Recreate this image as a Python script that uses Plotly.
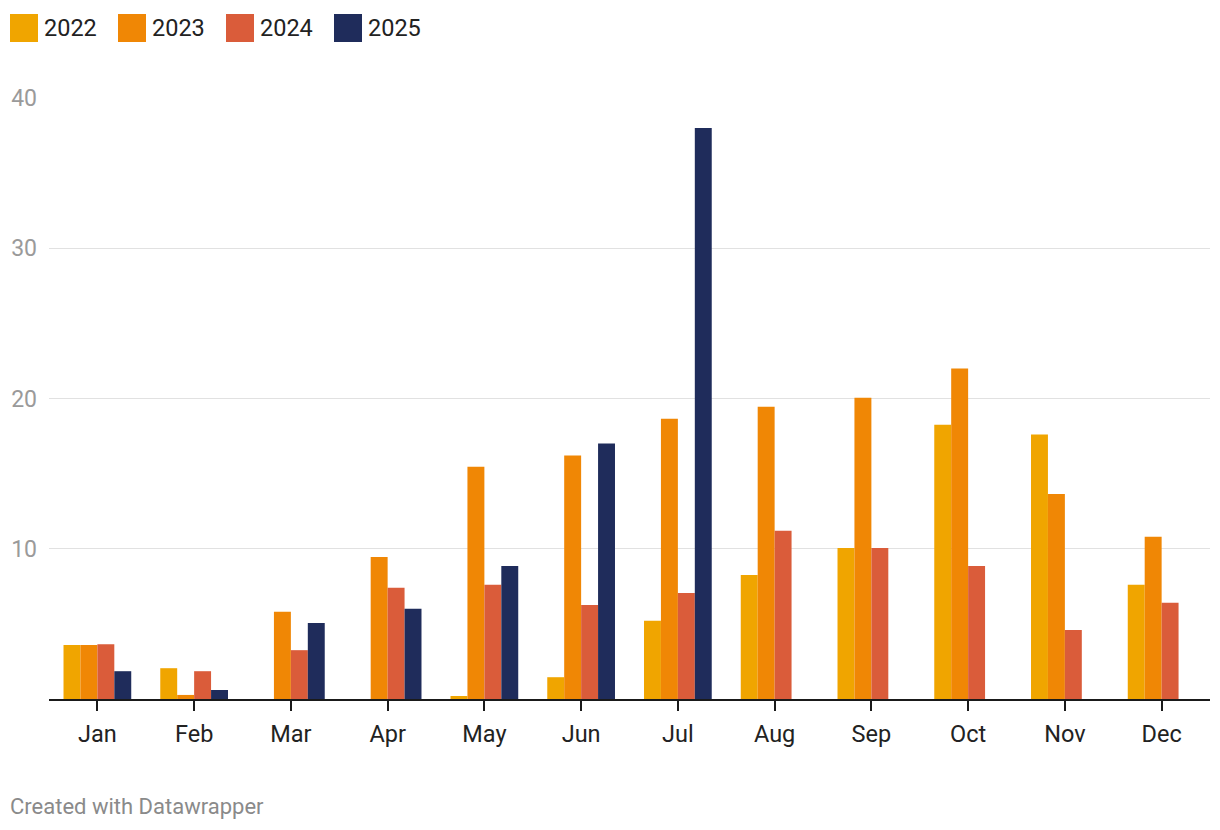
import plotly.graph_objects as go

months = ["Jan", "Feb", "Mar", "Apr", "May", "Jun", "Jul", "Aug", "Sep", "Oct", "Nov", "Dec"]
years = ["2022", "2023", "2024", "2025"]
v2022 = [3.6, 2.05, None, None, 0.2, 1.45, 5.2, 8.25, 10.05, 18.25, 17.6, 7.6]
v2023 = [3.6, 0.27, 5.8, 9.45, 15.45, 16.2, 18.65, 19.45, 20.05, 22.0, 13.65, 10.8]
v2024 = [3.65, 1.85, 3.25, 7.4, 7.6, 6.25, 7.05, 11.2, 10.05, 8.85, 4.6, 6.4]
v2025 = [1.85, 0.6, 5.05, 6.0, 8.85, 17.0, 38.0, None, None, None, None, None]
colors = ["#f0a500", "#f08705", "#da5c3a", "#1f2c5b"]
series = [v2022, v2023, v2024, v2025]
yticks = [10, 20, 30, 40]

# page body has an 8px margin; work in screen pixels and shift
OFF = 8
W, H = 1220 - OFF, 830 - OFF
L, T = 49 - OFF, 98 - OFF
pw, ph = 1161, 601
R, B = W - L - pw, H - T - ph

def px(x):
    return (x - OFF - L) / pw

def py(y):
    return (T + ph - (y - OFF)) / ph

fig = go.Figure()
for name, vals, col in zip(years, series, colors):
    fig.add_trace(go.Bar(x=months, y=vals, name=name, marker_color=col,
                         marker_line_width=0, showlegend=False))

shapes = []
annotations = []
leg_x = [10, 118, 226, 334]
for i, (name, col) in enumerate(zip(years, colors)):
    x0 = leg_x[i]
    shapes.append(dict(type="rect", xref="paper", yref="paper",
                       x0=px(x0), x1=px(x0 + 28), y0=py(42), y1=py(14),
                       fillcolor=col, line_width=0))
    annotations.append(dict(text=name, xref="paper", yref="paper",
                            x=px(x0 + 32), y=py(28), xanchor="left", yanchor="middle",
                            showarrow=False, font=dict(size=23.5, color="#222222")))
annotations.append(dict(text="Created with Datawrapper", xref="paper", yref="paper",
                        x=px(8), y=py(806), xanchor="left", yanchor="middle",
                        showarrow=False, font=dict(size=22, color="#8a8a8a")))

fig.update_layout(
    width=W, height=H,
    margin=dict(l=L, r=R, t=T, b=B),
    paper_bgcolor="white", plot_bgcolor="white",
    font=dict(family="Roboto", color="#222222"),
    barmode="group", bargap=0.3, bargroupgap=0,
    shapes=shapes, annotations=annotations,
    xaxis=dict(showgrid=False, showline=True, linecolor="#1a1a1a", linewidth=2,
               ticks="outside", ticklen=10, tickwidth=2, tickcolor="#1a1a1a",
               ticklabelstandoff=3, automargin=False,
               tickfont=dict(size=23.5, color="#222222"), range=[-0.5, 11.5]),
    yaxis=dict(range=[0, 40], tickvals=yticks, showgrid=True, gridcolor="#e1e1e1",
               gridwidth=1, zeroline=False, showline=False, ticks="",
               ticklabelstandoff=11, automargin=False,
               tickfont=dict(size=23, color="#9a9a9a")),
)

fig.write_html("out.html")
